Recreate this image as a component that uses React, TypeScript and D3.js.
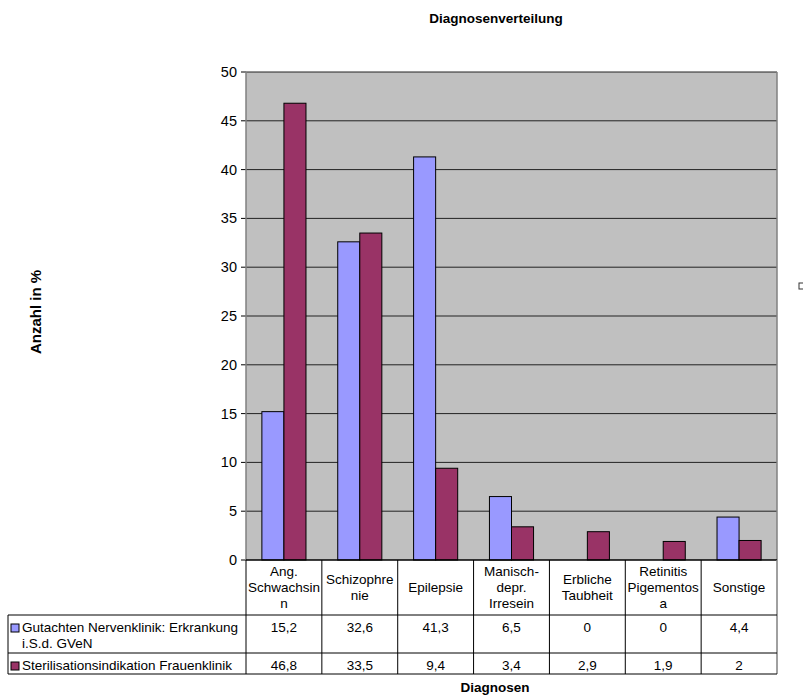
import React from "react";
import * as d3 from "d3";

const categories = [
  ["Ang.", "Schwachsin", "n"],
  ["Schizophre", "nie"],
  ["Epilepsie"],
  ["Manisch-", "depr.", "Irresein"],
  ["Erbliche", "Taubheit"],
  ["Retinitis", "Pigementos", "a"],
  ["Sonstige"],
];
const seriesNames = [
  ["Gutachten Nervenklinik: Erkrankung", "i.S.d. GVeN"],
  ["Sterilisationsindikation Frauenklinik"],
];
const gutachten = [15.2, 32.6, 41.3, 6.5, 0, 0, 4.4];
const sterilisation = [46.8, 33.5, 9.4, 3.4, 2.9, 1.9, 2];
const seriesColors = ["#9999FF", "#993366"];
const yTicks = [0, 5, 10, 15, 20, 25, 30, 35, 40, 45, 50];

const W = 803;
const H = 697;
const plotLeft = 246;
const plotRight = 777;
const plotTop = 72;
const plotBottom = 560;
const tableLeft = 8;
const row1Top = 615;
const row2Top = 653;
const tableBottom = 674;
const FONT = "'Liberation Sans', Arial, Helvetica, sans-serif";
const TABLE_FS = 13.5;

export default function App() {
  const series = [gutachten, sterilisation];
  const catKeys = categories.map((_, i) => String(i));
  const x0 = d3.scaleBand<string>().domain(catKeys).range([plotLeft, plotRight]);
  const bw = x0.bandwidth();
  const x1 = d3
    .scaleBand<string>()
    .domain(["0", "1"])
    .range([0, bw])
    .paddingInner(0)
    .paddingOuter(0.72);
  const y = d3.scaleLinear().domain([0, 50]).range([plotBottom, plotTop]);

  const bounds = catKeys.map((k) => x0(k) as number).concat([plotRight]);

  return (
    <svg
      width={W}
      height={H}
      style={{ position: "absolute", left: 0, top: 0, background: "#fff" }}
      fontFamily={FONT}
    >
      <rect x={0} y={0} width={W} height={H} fill="#fff" />
      {/* title */}
      <text x={496} y={23} textAnchor="middle" fontSize={13.5} fontWeight="bold">
        Diagnosenverteilung
      </text>
      {/* plot area */}
      <rect x={plotLeft} y={plotTop} width={plotRight - plotLeft} height={plotBottom - plotTop} fill="#C0C0C0" />
      {yTicks.map((t) => (
        <g key={t}>
          {t > 0 && (
            <line x1={plotLeft} x2={plotRight} y1={y(t)} y2={y(t)} stroke="#222" strokeWidth={1} />
          )}
          <line x1={plotLeft - 5} x2={plotLeft} y1={y(t)} y2={y(t)} stroke="#000" />
          <text x={plotLeft - 9} y={y(t) + 5} textAnchor="end" fontSize={14.5}>
            {t}
          </text>
        </g>
      ))}
      <line x1={plotRight} x2={plotRight} y1={plotTop} y2={plotBottom} stroke="#808080" strokeWidth={1.5} />
      <line x1={plotLeft} x2={plotLeft} y1={plotTop} y2={plotBottom} stroke="#808080" strokeWidth={1.5} />
      {/* bars */}
      {series.map((vals, s) =>
        vals.map((v, i) =>
          v > 0 ? (
            <rect
              key={`${s}-${i}`}
              x={(x0(String(i)) as number) + (x1(String(s)) as number)}
              y={y(v)}
              width={x1.bandwidth()}
              height={y(0) - y(v)}
              fill={seriesColors[s]}
              stroke="#000"
              strokeWidth={1}
            />
          ) : null
        )
      )}
      <line x1={plotLeft} x2={plotRight} y1={plotBottom} y2={plotBottom} stroke="#000" strokeWidth={1.5} />

      {/* data table */}
      {bounds.map((b, i) => (
        <line key={i} x1={b} x2={b} y1={plotBottom} y2={tableBottom} stroke={i === bounds.length - 1 ? "#808080" : "#000"} strokeWidth={i === bounds.length - 1 ? 1.5 : 1} />
      ))}
      <line x1={tableLeft} x2={tableLeft} y1={row1Top} y2={tableBottom} stroke="#000" />
      {[row1Top, row2Top, tableBottom].map((yy) => (
        <line key={yy} x1={tableLeft} x2={plotRight} y1={yy} y2={yy} stroke="#000" />
      ))}
      {categories.map((lines, i) => {
        const cx = (x0(String(i)) as number) + bw / 2;
        const lh = 16;
        const mid = (plotBottom + row1Top) / 2;
        const start = mid - ((lines.length - 1) * lh) / 2;
        return (
          <text key={i} textAnchor="middle" fontSize={TABLE_FS}>
            {lines.map((l, j) => (
              <tspan key={j} x={cx} y={start + j * lh + 4.5}>
                {l}
              </tspan>
            ))}
          </text>
        );
      })}
      {seriesNames.map((lines, s) => {
        const top = s === 0 ? row1Top : row2Top;
        return (
          <g key={s}>
            <rect x={11} y={top + 9} width={8} height={8} fill={seriesColors[s]} stroke="#000" strokeWidth={1} />
            <text fontSize={TABLE_FS}>
              {lines.map((l, j) => (
                <tspan key={j} x={22} y={top + 17 + j * 16}>
                  {l}
                </tspan>
              ))}
            </text>
            {series[s].map((v, i) => (
              <text
                key={i}
                x={(x0(String(i)) as number) + bw / 2}
                y={top + 17}
                textAnchor="middle"
                fontSize={TABLE_FS}
              >
                {String(v).replace(".", ",")}
              </text>
            ))}
          </g>
        );
      })}

      {/* axis titles */}
      <text
        transform={`translate(41, ${312}) rotate(-90)`}
        textAnchor="middle"
        fontSize={15}
        fontWeight="bold"
      >
        Anzahl in %
      </text>
      <text x={495} y={692} textAnchor="middle" fontSize={13.5} fontWeight="bold">
        Diagnosen
      </text>
      {/* clipped marker at right edge */}
      <rect x={799} y={283} width={8} height={6} fill="#fff" stroke="#333" strokeWidth={1} />
    </svg>
  );
}
